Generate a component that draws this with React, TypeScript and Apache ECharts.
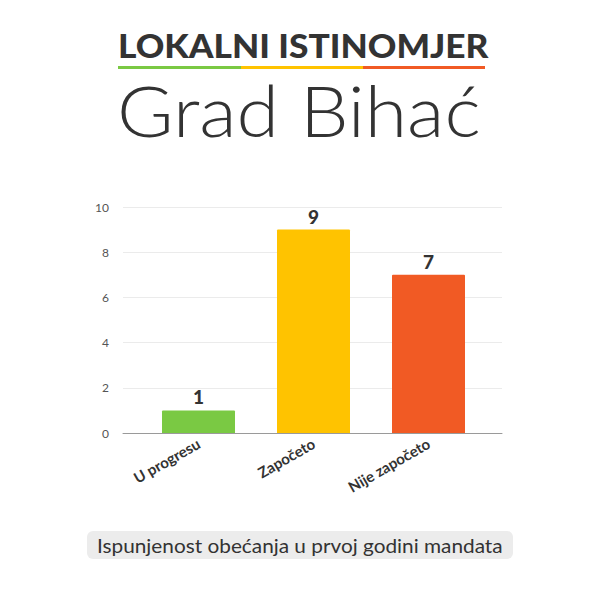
import React, { useEffect, useRef } from "react";
import * as echarts from "echarts";

const categories = ["U progresu", "Započeto", "Nije započeto"];
const values = [1, 9, 7];
const barColors = ["#7ac943", "#ffc300", "#f15a24"];
const yMin = 0;
const yMax = 10;
const yStep = 2;
const titleTop = "LOKALNI ISTINOMJER";
const titleMain = "Grad Bihać";
const caption = "Ispunjenost obećanja u prvoj godini mandata";

export default function App() {
  const ref = useRef<HTMLDivElement>(null);
  useEffect(() => {
    document.body.style.margin = "0";
    const chart = echarts.init(ref.current!, null, { renderer: "svg" });
    const font = "Lato, 'Open Sans', sans-serif";
    chart.setOption({
      animation: false,
      backgroundColor: "#ffffff",
      textStyle: { fontFamily: font },
      grid: [
        { left: 123, right: 98, top: 207, bottom: 167 },
        { left: 141, right: 114, top: 207, bottom: 167 },
      ],
      xAxis: [
        {
          type: "category",
          gridIndex: 0,
          data: [""],
          axisLabel: { show: false },
          axisTick: { show: false },
          axisLine: { show: true, lineStyle: { color: "#9a9a9a", width: 1 } },
        },
        {
          type: "category",
          gridIndex: 1,
          data: categories,
          axisLine: { show: false },
          axisTick: { show: false },
          axisLabel: {
            rotate: 30,
            margin: 9,
            fontSize: 15,
            fontWeight: "bold",
            color: "#333333",
            fontFamily: font,
          },
        },
      ],
      yAxis: [
        {
          type: "value",
          gridIndex: 0,
          min: yMin,
          max: yMax,
          interval: yStep,
          axisLine: { show: false },
          axisTick: { show: false },
          axisLabel: { color: "#555555", fontSize: 12, margin: 14, fontFamily: font },
          splitLine: { lineStyle: { color: "#ebebeb", width: 1 } },
        },
        {
          type: "value",
          gridIndex: 1,
          min: yMin,
          max: yMax,
          interval: yStep,
          show: false,
          splitLine: { show: false },
        },
      ],
      series: [
        {
          type: "bar",
          xAxisIndex: 1,
          yAxisIndex: 1,
          barWidth: 73,
          data: values.map((v, i) => ({
            value: v,
            itemStyle: { color: barColors[i], borderRadius: [1, 1, 0, 0] },
          })),
          label: {
            show: true,
            position: "top",
            distance: 4,
            fontSize: 19,
            fontWeight: 900,
            color: "#333333",
            fontFamily: font,
          },
        },
      ],
      graphic: [
        {
          type: "text",
          x: 118,
          y: 45,
          scaleX: 1.07,
          style: {
            x: 0,
            y: 0,
            text: titleTop,
            fontSize: 33,
            fontWeight: 900,
            fill: "#333333",
            fontFamily: font,
            textAlign: "left",
            textVerticalAlign: "middle",
          },
        },
        { type: "rect", shape: { x: 118, y: 66, width: 123, height: 3 }, style: { fill: barColors[0] } },
        { type: "rect", shape: { x: 241, y: 66, width: 122, height: 3 }, style: { fill: barColors[1] } },
        { type: "rect", shape: { x: 363, y: 66, width: 122, height: 3 }, style: { fill: barColors[2] } },
        {
          type: "text",
          x: 117,
          y: 110,
          scaleX: 1.1,
          style: {
            x: 0,
            y: 0,
            text: titleMain,
            fontSize: 70,
            fontWeight: 300,
            fill: "#333333",
            fontFamily: font,
            textAlign: "left",
            textVerticalAlign: "middle",
          },
        },
        {
          type: "rect",
          shape: { x: 87, y: 531, width: 426, height: 28, r: 6 },
          style: { fill: "#ececec" },
        },
        {
          type: "text",
          x: 97,
          y: 545,
          scaleX: 1.04,
          style: {
            x: 0,
            y: 0,
            text: caption,
            fontSize: 20,
            fill: "#333333",
            fontFamily: font,
            textAlign: "left",
            textVerticalAlign: "middle",
          },
        },
      ],
    });
    return () => chart.dispose();
  }, []);
  return <div ref={ref} style={{ width: 600, height: 600 }} />;
}
